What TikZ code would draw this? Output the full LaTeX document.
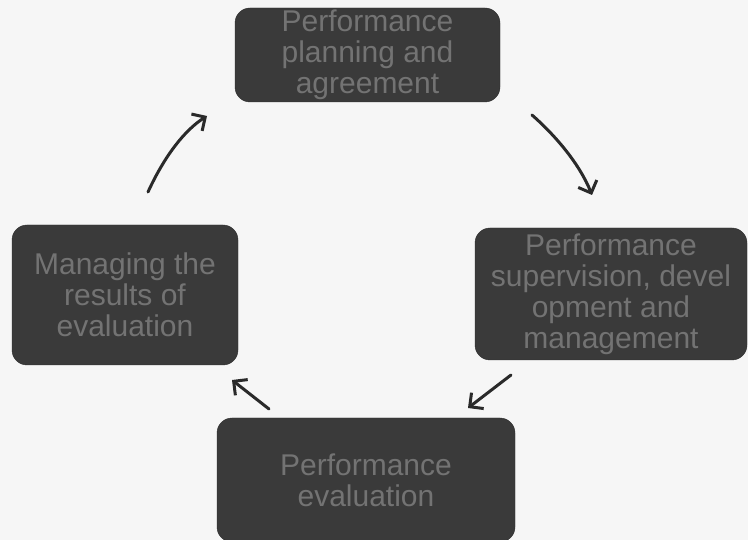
\documentclass[tikz,border=0pt]{standalone}
\usepackage{fontspec}
\setmainfont{Liberation Sans}
\usetikzlibrary{arrows.meta}
\definecolor{boxfill}{HTML}{3A3A3A}
\definecolor{boxtext}{HTML}{737373}
\definecolor{bg}{HTML}{F6F6F6}
\definecolor{arrowc}{HTML}{2A2A2A}
\begin{document}
\begin{tikzpicture}[x=1pt,y=-1pt,
  stagebox/.style={fill=boxfill, draw=boxfill!80!black, rounded corners=15pt, align=center,
    text=boxtext, font=\fontsize{30}{31}\selectfont, inner sep=0pt},
  handarrow/.style={draw=arrowc, line width=3pt, line cap=round,
    -{Straight Barb[length=10pt,width=20pt,line width=3pt]}}]
\useasboundingbox[fill=bg] (0,0) rectangle (748,540);
\node[stagebox, minimum width=265pt, minimum height=94pt] (plan) at (367.5,55)
  {Performance\\planning and\\agreement};
\node[stagebox, minimum width=272pt, minimum height=132pt] (sup) at (611,294)
  {Performance\\supervision, devel\\opment and\\management};
\node[stagebox, minimum width=226pt, minimum height=140pt] (manage) at (125,295)
  {Managing the\\results of\\evaluation};
\node[stagebox, minimum width=298pt, minimum height=124pt] (eval) at (366,480)
  {Performance\\evaluation};
\coordinate (a1s) at (148,192); \coordinate (a1e) at (207,116);
\coordinate (a2s) at (532,115); \coordinate (a2e) at (592,195);
\coordinate (a3s) at (511,375); \coordinate (a3e) at (468,408);
\coordinate (a4s) at (269,409); \coordinate (a4e) at (232,380);
\draw[handarrow] (a1s) .. controls (165,155) and (185,130) .. (a1e);
\draw[handarrow] (a2s) .. controls (557,137) and (580,165) .. (a2e);
\draw[handarrow] (a3s) -- (a3e);
\draw[handarrow] (a4s) -- (a4e);
\end{tikzpicture}
\end{document}
